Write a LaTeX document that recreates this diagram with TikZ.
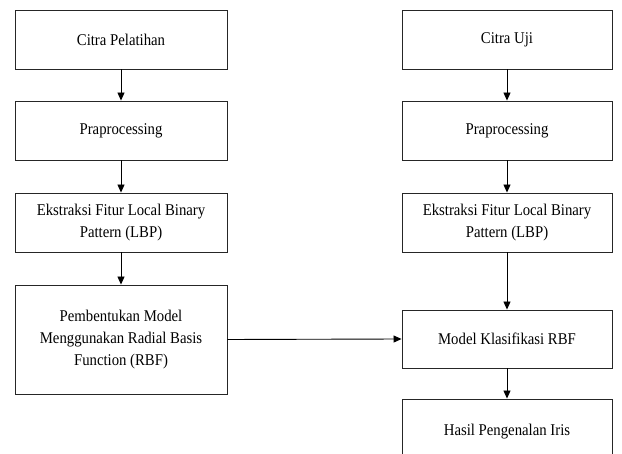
\documentclass[tikz,border=0pt]{standalone}
\usepackage{fontspec}
\setmainfont[FakeStretch=0.9]{Liberation Serif}
\usetikzlibrary{arrows.meta}
\begin{document}
\begin{tikzpicture}[x=1pt,y=-1pt,
  box/.style={draw=black!85,line width=0.9pt,rectangle,align=center,inner sep=2pt,
    font=\fontsize{16.4}{22}\selectfont},
  conn/.style={line width=0.9pt,-{Triangle[length=8pt,width=7pt]}}]
\useasboundingbox (0,0) rectangle (622,454);
\clip (0,0) rectangle (622,454);
\node[box,minimum width=212pt,minimum height=59pt] (L1) at (121,39.5) {Citra Pelatihan};
\node[box,minimum width=212pt,minimum height=59pt] (L2) at (121,130.5) {Praprocessing};
\node[box,minimum width=212pt,minimum height=59pt] (L3) at (121,222.5) {Ekstraksi Fitur Local Binary\\Pattern (LBP)};
\node[box,minimum width=212pt,minimum height=109pt] (L4) at (121,339.5) {Pembentukan Model\\Menggunakan Radial Basis\\Function (RBF)};
\node[box,minimum width=210pt,minimum height=59pt] (R1) at (507,39.5) {Citra Uji};
\node[box,minimum width=210pt,minimum height=59pt] (R2) at (507,130.5) {Praprocessing};
\node[box,minimum width=210pt,minimum height=59pt] (R3) at (507,222.5) {Ekstraksi Fitur Local Binary\\Pattern (LBP)};
\node[box,minimum width=210pt,minimum height=58pt] (R4) at (507,339) {Model Klasifikasi RBF};
\node[box,minimum width=210pt,minimum height=66pt] (R5) at (507,432) {Hasil Pengenalan Iris};
\draw[conn] (L1) -- (L2);
\draw[conn] (L2) -- (L3);
\draw[conn] (L3) -- (L4);
\draw[conn] (R1) -- (R2);
\draw[conn] (R2) -- (R3);
\draw[conn] (R3) -- (R4);
\draw[conn] (R4) -- (R5);
\draw[conn] (L4.east) -- (R4.west);
\end{tikzpicture}
\end{document}
